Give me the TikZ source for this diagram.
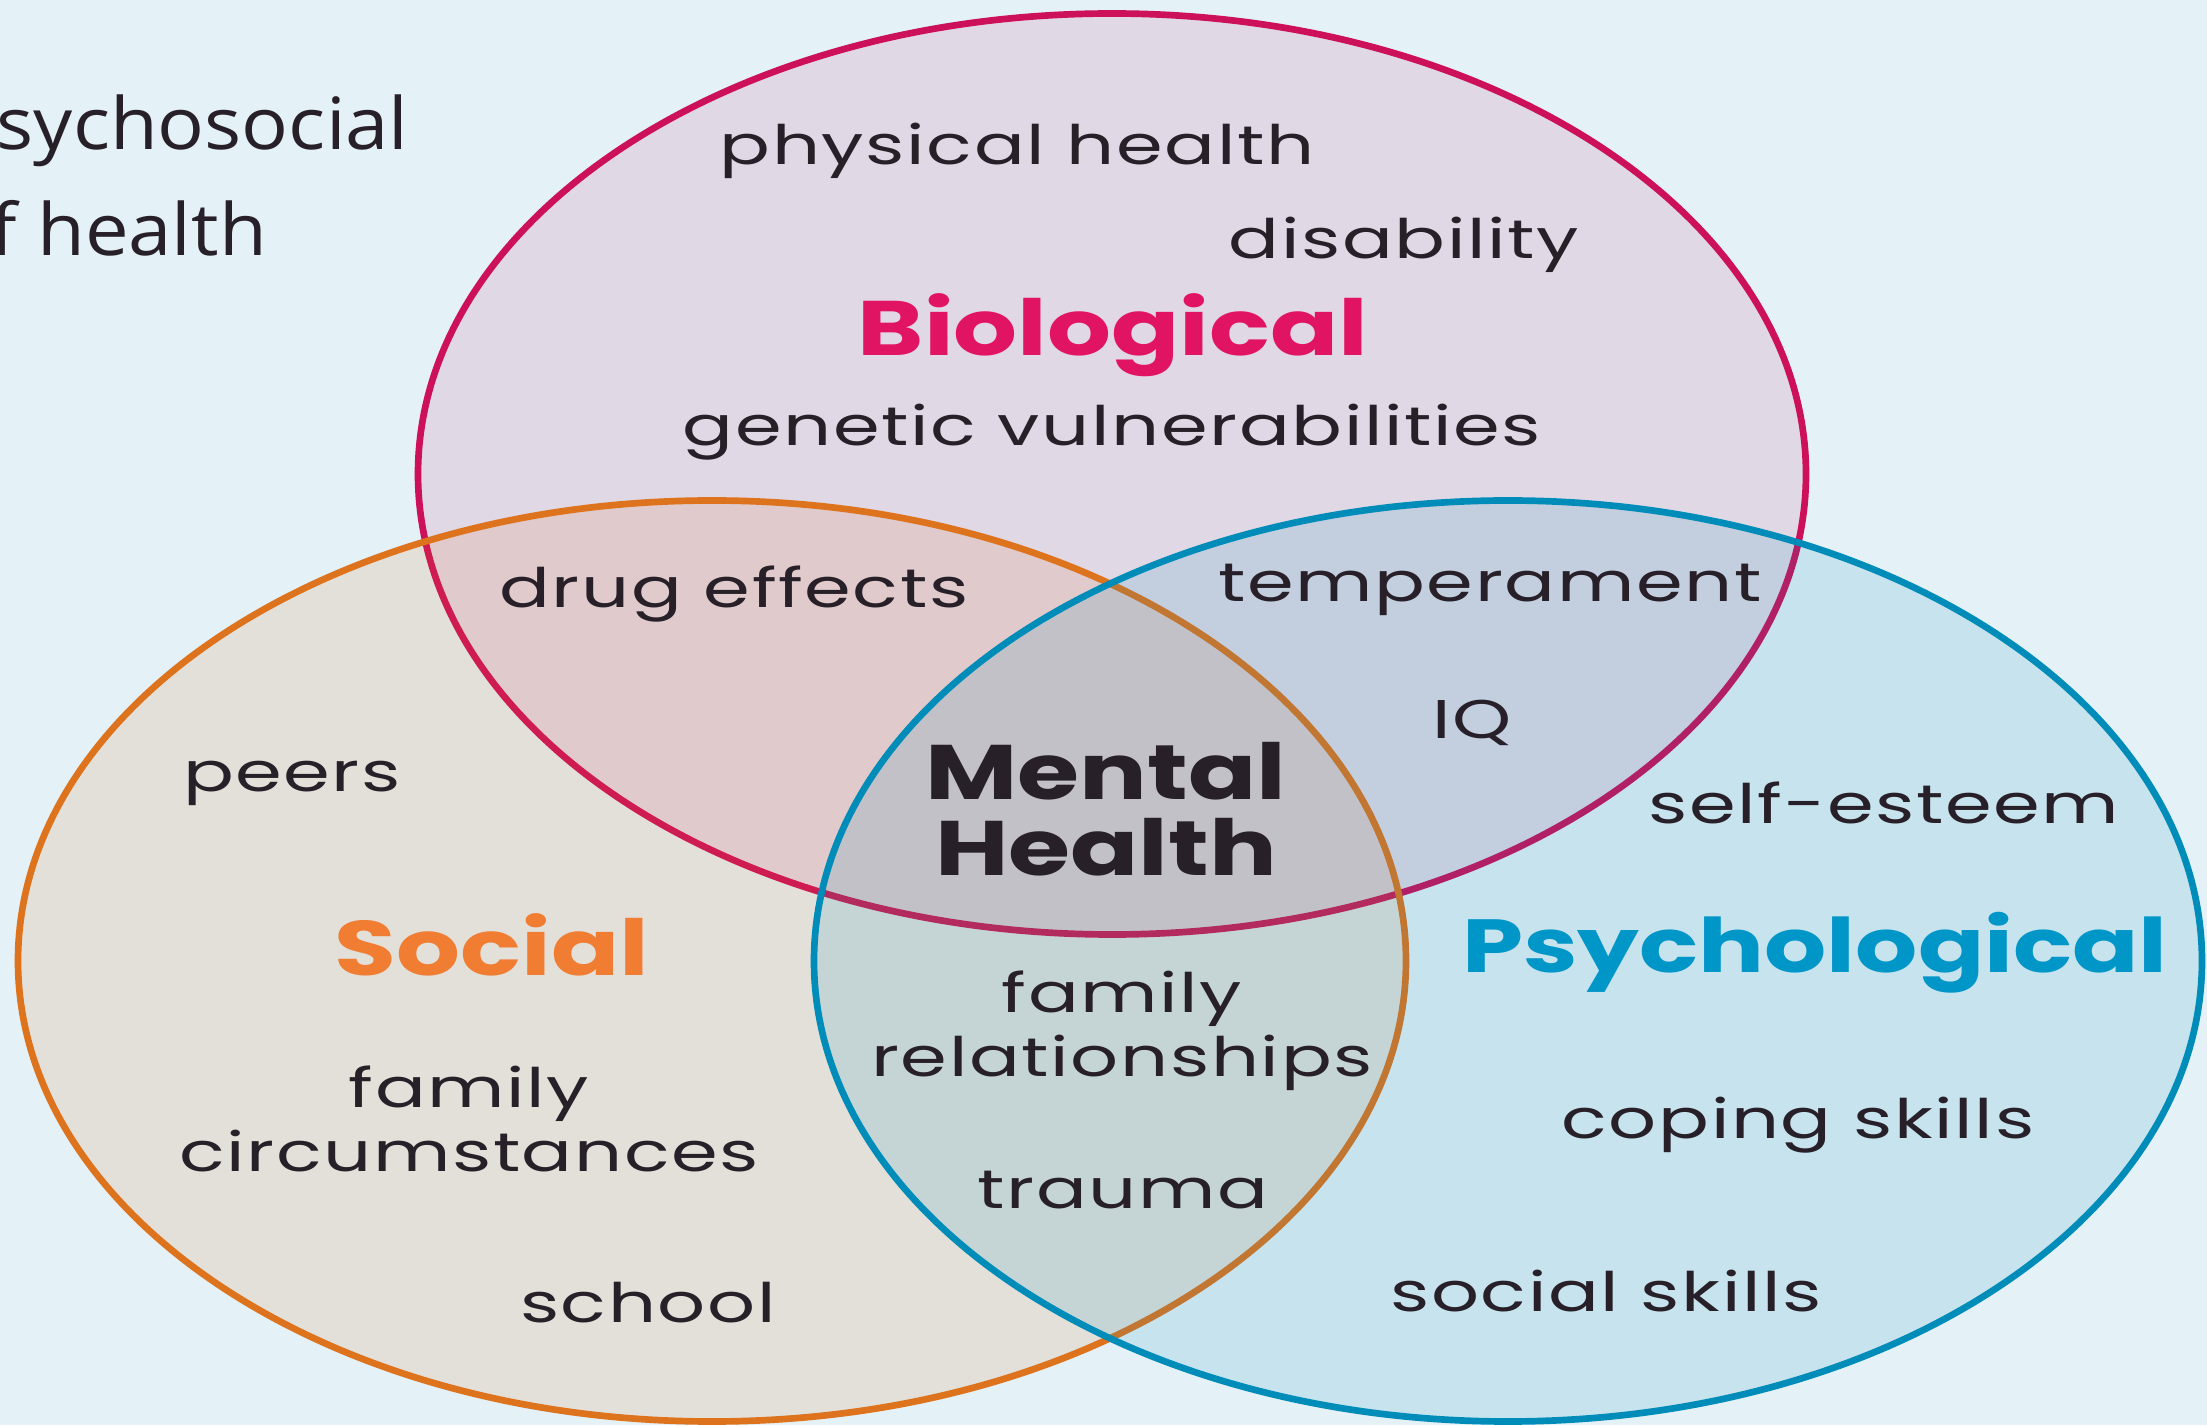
\documentclass[tikz,border=0pt]{standalone}
\usepackage{xcolor}
\usepackage{fontspec}
\setmainfont{Poppins}[FakeStretch=1.38,LetterSpace=3]
\newfontfamily\titlefont{Poppins}[FakeStretch=1.3]
\newfontfamily\notefont{Open Sans}[FakeStretch=1.08]
\usepackage{tikz}
\usetikzlibrary{shapes,positioning,calc}

\definecolor{bgblue}{RGB}{228,241,247}
\definecolor{biored}{RGB}{204,16,90}
\definecolor{socorange}{RGB}{222,115,30}
\definecolor{psyblue}{RGB}{0,140,185}
\definecolor{biotext}{RGB}{225,20,100}
\definecolor{soctext}{RGB}{240,125,50}
\definecolor{psytext}{RGB}{0,150,200}
\definecolor{inktext}{RGB}{40,32,40}

\begin{document}
\begin{tikzpicture}[
        setnode/.style={ellipse, draw=#1, line width=1.9pt, fill=#1, draw opacity=1, minimum width=13.88cm, minimum height=9.21cm, inner sep=0pt},
        itemnode/.style={text=inktext, font=\fontsize{15.5}{18.2}\selectfont, align=center, inner sep=0pt},
        titlenode/.style={text=#1, font=\titlefont\fontsize{22}{21.6}\selectfont\bfseries, align=center, inner sep=0pt},
        notenode/.style={text=inktext, font=\notefont\fontsize{20.5}{24}\selectfont, anchor=west, inner sep=0pt}
        ]

        % Background
        \fill[bgblue] (0,0) rectangle (22.07,14.25);
        \useasboundingbox (0,0) rectangle (22.07,14.25);

        % Sets
        \node[setnode=biored, fill opacity=0.11] (bio) at (11.12,9.51) {};
        \node[setnode=socorange, fill opacity=0.13] (soc) at (7.12,4.64) {};
        \node[setnode=psyblue, fill opacity=0.13] (psy) at (15.08,4.64) {};

        % Caption
        \node[notenode] (cap1) at (-0.04,12.94) {sychosocial};
        \node[notenode] (cap2) at (-0.1,11.97) {f health};

        % Biological
        \node[itemnode] (physical) at (10.17,12.74) {physical health};
        \node[itemnode] (disability) at (14.04,11.80) {disability};
        \node[titlenode=biotext] (biotitle) at (11.13,10.90) {Biological};
        \node[itemnode] (genetic) at (11.12,9.93) {genetic vulnerabilities};

        % Overlaps
        \node[itemnode] (drug) at (7.34,8.31) {drug effects};
        \node[itemnode] (temper) at (14.90,8.35) {temperament};
        \node[itemnode] (iq) at (14.72,7.02) {IQ};
        \node[titlenode=inktext] (mental) at (11.06,6.16) {Mental\\Health};
        \node[itemnode] (famrel) at (11.22,3.94) {family\\relationships};
        \node[itemnode] (trauma) at (11.23,2.35) {trauma};

        % Social
        \node[itemnode] (peers) at (2.92,6.42) {peers};
        \node[titlenode=soctext] (soctitle) at (4.92,4.80) {Social};
        \node[itemnode] (famcirc) at (4.69,3.06) {family\\circumstances};
        \node[itemnode] (school) at (6.48,1.22) {school};

        % Psychological
        \node[itemnode] (esteem) at (18.84,6.22) {self-esteem};
        \node[titlenode=psytext, font=\titlefont\fontsize{21.4}{21.6}\selectfont\bfseries] (psytitle) at (18.15,4.72) {Psychological};
        \node[itemnode] (coping) at (17.98,3.00) {coping skills};
        \node[itemnode] (socskills) at (16.06,1.34) {social skills};

\end{tikzpicture}
\end{document}
